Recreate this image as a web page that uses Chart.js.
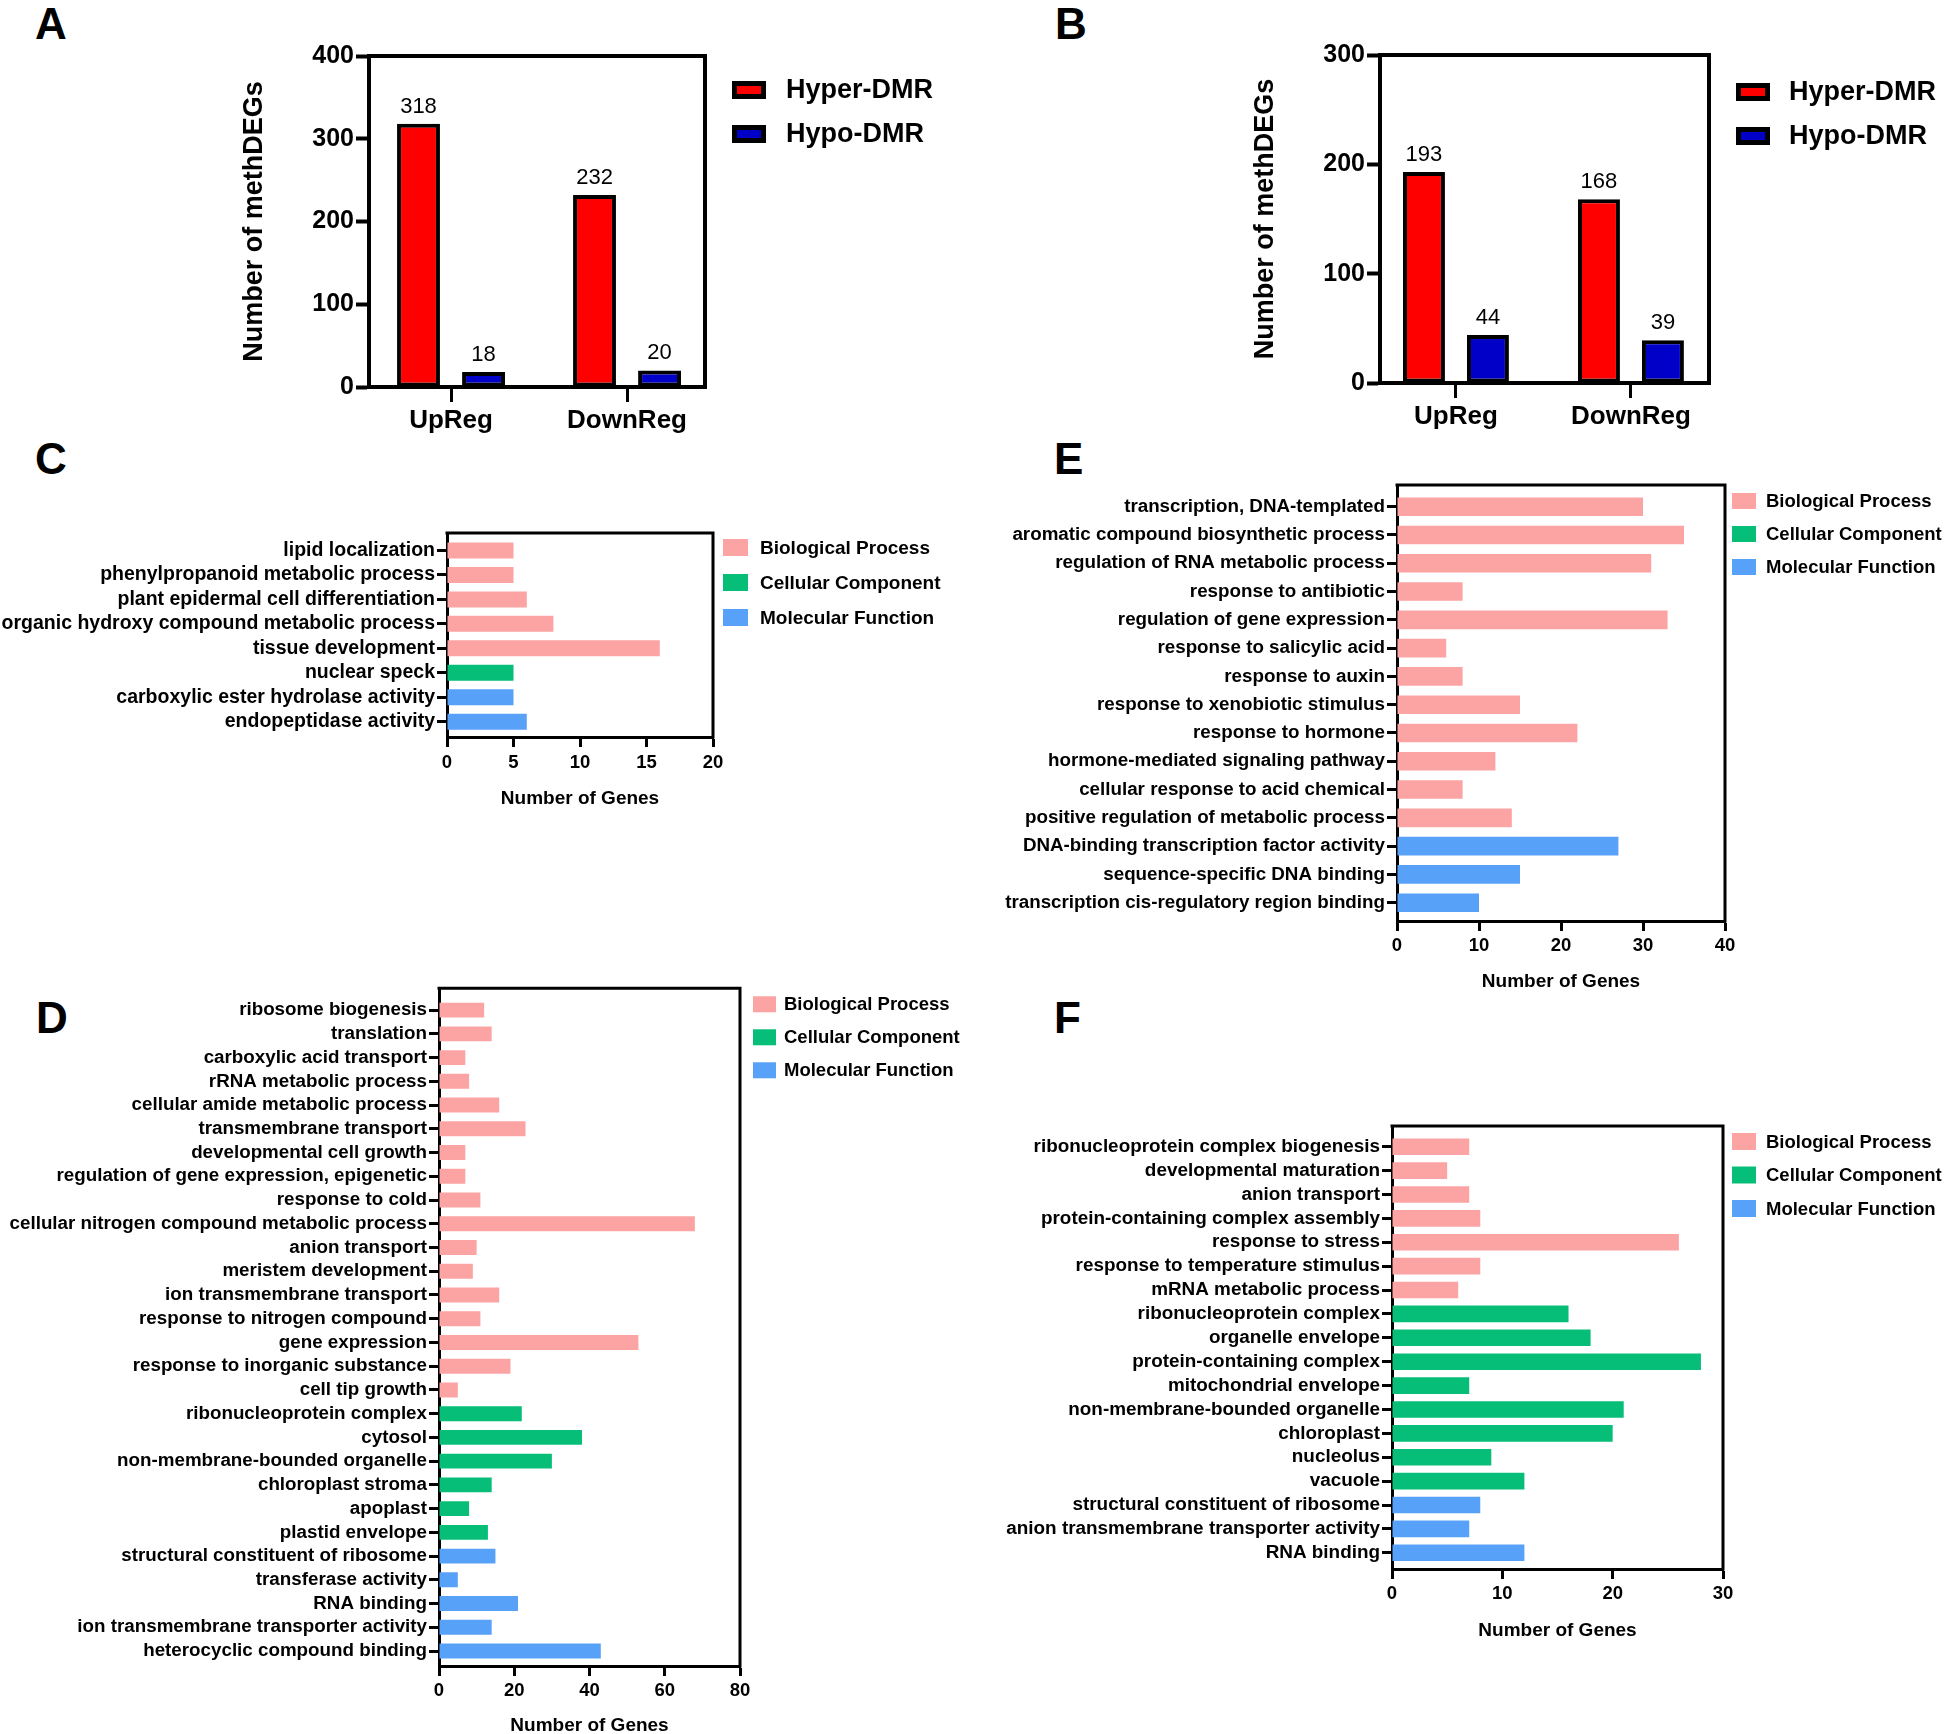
<!DOCTYPE html>
<html lang="en">
<head>
<meta charset="UTF-8">
<title>methDEGs and GO terms</title>
<script src="https://cdn.jsdelivr.net/npm/chart.js"></script>
<style>
  body {
    margin: 0;
    width: 1945px;
    height: 1734px;
    position: relative;
    overflow: hidden;
    background: #fff;
    font-family: "Liberation Sans", Arial, sans-serif;
  }
  .tag {
    position: absolute;
    font-weight: bold;
    font-size: 44px;
    line-height: 1;
  }
  canvas { position: absolute; }
</style>
</head>
<body>
<div class="tag" style="left:35px;top:2px">A</div>
<div class="tag" style="left:1055px;top:2px">B</div>
<div class="tag" style="left:35px;top:437px">C</div>
<div class="tag" style="left:1054px;top:437px">E</div>
<div class="tag" style="left:36px;top:996px">D</div>
<div class="tag" style="left:1054px;top:996px">F</div>

<script>
const FONT = '"Liberation Sans", Arial, sans-serif';
Chart.defaults.font.family = FONT;
Chart.defaults.color = '#000';

// --- A / B: methylated DEGs ---
const regGroups = ['UpReg', 'DownReg'];
const dmrTypes = ['Hyper-DMR', 'Hypo-DMR'];
const hyperA = [318, 232];
const hypoA = [18, 20];
const hyperB = [193, 168];
const hypoB = [44, 39];
const maxA = 400;
const maxB = 300;
const countStep = 100;

// --- GO terms ---
const goClasses = ['Biological Process', 'Cellular Component', 'Molecular Function'];
const classCodes = ['BP', 'CC', 'MF'];

const cTerms = ['lipid localization', 'phenylpropanoid metabolic process', 'plant epidermal cell differentiation',
  'organic hydroxy compound metabolic process', 'tissue development', 'nuclear speck',
  'carboxylic ester hydrolase activity', 'endopeptidase activity'];
const cGenes = [5, 5, 6, 8, 16, 5, 5, 6];
const cClass = ['BP', 'BP', 'BP', 'BP', 'BP', 'CC', 'MF', 'MF'];

const eTerms = ['transcription, DNA-templated', 'aromatic compound biosynthetic process',
  'regulation of RNA metabolic process', 'response to antibiotic', 'regulation of gene expression',
  'response to salicylic acid', 'response to auxin', 'response to xenobiotic stimulus', 'response to hormone',
  'hormone-mediated signaling pathway', 'cellular response to acid chemical',
  'positive regulation of metabolic process', 'DNA-binding transcription factor activity',
  'sequence-specific DNA binding', 'transcription cis-regulatory region binding'];
const eGenes = [30, 35, 31, 8, 33, 6, 8, 15, 22, 12, 8, 14, 27, 15, 10];
const eClass = ['BP', 'BP', 'BP', 'BP', 'BP', 'BP', 'BP', 'BP', 'BP', 'BP', 'BP', 'BP', 'MF', 'MF', 'MF'];

const dTerms = ['ribosome biogenesis', 'translation', 'carboxylic acid transport', 'rRNA metabolic process',
  'cellular amide metabolic process', 'transmembrane transport', 'developmental cell growth',
  'regulation of gene expression, epigenetic', 'response to cold', 'cellular nitrogen compound metabolic process',
  'anion transport', 'meristem development', 'ion transmembrane transport', 'response to nitrogen compound',
  'gene expression', 'response to inorganic substance', 'cell tip growth', 'ribonucleoprotein complex',
  'cytosol', 'non-membrane-bounded organelle', 'chloroplast stroma', 'apoplast', 'plastid envelope',
  'structural constituent of ribosome', 'transferase activity', 'RNA binding',
  'ion transmembrane transporter activity', 'heterocyclic compound binding'];
const dGenes = [12, 14, 7, 8, 16, 23, 7, 7, 11, 68, 10, 9, 16, 11, 53, 19, 5,
  22, 38, 30, 14, 8, 13, 15, 5, 21, 14, 43];
const dClass = ['BP', 'BP', 'BP', 'BP', 'BP', 'BP', 'BP', 'BP', 'BP', 'BP', 'BP', 'BP', 'BP', 'BP', 'BP', 'BP', 'BP',
  'CC', 'CC', 'CC', 'CC', 'CC', 'CC', 'MF', 'MF', 'MF', 'MF', 'MF'];

const fTerms = ['ribonucleoprotein complex biogenesis', 'developmental maturation', 'anion transport',
  'protein-containing complex assembly', 'response to stress', 'response to temperature stimulus',
  'mRNA metabolic process', 'ribonucleoprotein complex', 'organelle envelope', 'protein-containing complex',
  'mitochondrial envelope', 'non-membrane-bounded organelle', 'chloroplast', 'nucleolus', 'vacuole',
  'structural constituent of ribosome', 'anion transmembrane transporter activity', 'RNA binding'];
const fGenes = [7, 5, 7, 8, 26, 8, 6, 16, 18, 28, 7, 21, 20, 9, 12, 8, 7, 12];
const fClass = ['BP', 'BP', 'BP', 'BP', 'BP', 'BP', 'BP', 'CC', 'CC', 'CC', 'CC', 'CC', 'CC', 'CC', 'CC',
  'MF', 'MF', 'MF'];

// colours
const dmrColors = ['#FF0000', '#0000C8'];
const goColors = ['#FCA3A3', '#06BE78', '#58A1F8'];

// page layout (pixel boxes of each canvas and of its plot frame)
const layoutA = { rect: { l: 230, t: 20, r: 950, b: 470 }, area: { l: 369, r: 705, t: 56, b: 387 },
  lo: 0.466, hi: 0.443, catPct: 0.739, barPct: 0.66,
  legend: { dx: 27, dy: 25, w: 34, h: 18, gap: 44, tx: 54, size: 27, stroke: 5 } };
const layoutB = { rect: { l: 1241, t: 20, r: 1945, b: 470 }, area: { l: 1380, r: 1709, t: 55, b: 383 },
  lo: 0.434, hi: 0.446, catPct: 0.731, barPct: 0.656,
  legend: { dx: 27, dy: 28, w: 34, h: 18, gap: 44, tx: 53, size: 27, stroke: 5 } };
const layoutC = { rect: { l: 0, t: 500, r: 960, b: 830 }, area: { l: 447, r: 713, t: 533, b: 737 },
  lo: 0.715, hi: 0.626, bar: 16, xMax: 20, step: 5, labelSize: 19.5, tickPad: 5, titleOff: 61.5,
  legend: { dx: 10, dy: 6, w: 25, h: 17, gap: 35, tx: 37, size: 19 } };
const layoutE = { rect: { l: 990, t: 470, r: 1945, b: 1010 }, area: { l: 1397, r: 1725, t: 485, b: 921 },
  lo: 0.767, hi: 0.647, bar: 18.6, xMax: 40, step: 10, labelSize: 18.8, tickPad: 3.7, titleOff: 61,
  legend: { dx: 7, dy: 8, w: 24, h: 16, gap: 33, tx: 34, size: 18.5 } };
const layoutD = { rect: { l: 0, t: 975, r: 980, b: 1734 }, area: { l: 439, r: 740, t: 985, b: 1666 },
  lo: 0.92, hi: 0.63, bar: 15, xMax: 80, step: 20, labelSize: 18.8, tickPad: 4, titleOff: 60,
  legend: { dx: 13, dy: 8, w: 23, h: 16, gap: 33, tx: 31, size: 18.5 } };
const layoutF = { rect: { l: 990, t: 1080, r: 1945, b: 1660 }, area: { l: 1392, r: 1723, t: 1126, b: 1569 },
  lo: 0.866, hi: 0.678, bar: 16.6, xMax: 30, step: 10, labelSize: 18.9, tickPad: 3.7, titleOff: 61.3,
  legend: { dx: 9, dy: 7, w: 24, h: 17, gap: 33.5, tx: 34, size: 18.5 } };

// frame (top + right), legend and bar value labels
const decor = {
  id: 'decor',
  afterDatasetsDraw(chart, args, opts) {
    if (!opts.values) return;
    const ctx = chart.ctx;
    ctx.save();
    ctx.font = opts.values.size + 'px ' + FONT;
    ctx.fillStyle = '#000';
    ctx.textAlign = 'center';
    ctx.textBaseline = 'alphabetic';
    chart.data.datasets.forEach((ds, d) => {
      chart.getDatasetMeta(d).data.forEach((bar, i) => {
        ctx.fillText(String(ds.data[i].y), bar.x, bar.y - opts.values.gap);
      });
    });
    ctx.restore();
  },
  afterDraw(chart, args, opts) {
    const ctx = chart.ctx;
    const a = chart.chartArea;
    ctx.save();
    ctx.strokeStyle = '#000';
    ctx.lineWidth = opts.frame;
    ctx.lineCap = 'square';
    ctx.beginPath();
    ctx.moveTo(a.left, a.top);
    ctx.lineTo(a.right, a.top);
    ctx.lineTo(a.right, a.bottom);
    ctx.stroke();

    const lg = opts.legend;
    ctx.font = 'bold ' + lg.size + 'px ' + FONT;
    ctx.textAlign = 'left';
    ctx.textBaseline = 'middle';
    chart.data.datasets.forEach((ds, i) => {
      const x = a.right + lg.dx;
      const y = a.top + lg.dy + i * lg.gap;
      ctx.fillStyle = ds.backgroundColor;
      ctx.fillRect(x, y, lg.w, lg.h);
      if (lg.stroke) {
        ctx.lineWidth = lg.stroke;
        ctx.strokeStyle = '#000';
        ctx.strokeRect(x + lg.stroke / 2, y + lg.stroke / 2, lg.w - lg.stroke, lg.h - lg.stroke);
      }
      ctx.fillStyle = '#000';
      ctx.fillText(ds.label, x + lg.tx, y + lg.h / 2 + 1);
    });
    ctx.restore();
  }
};

function addCanvas(r) {
  const c = document.createElement('canvas');
  c.width = r.r - r.l;
  c.height = r.b - r.t;
  c.style.left = r.l + 'px';
  c.style.top = r.t + 'px';
  c.style.width = c.width + 'px';
  c.style.height = c.height + 'px';
  document.body.appendChild(c);
  return c;
}

function padFor(rect, area, yW, xH) {
  return {
    left: area.l - rect.l - yW,
    top: area.t - rect.t,
    right: rect.r - area.r,
    bottom: rect.b - area.b - xH
  };
}

function countChart(g, hyper, hypo, yMax) {
  const yW = g.area.l - g.rect.l;
  const xH = 60;
  const datasets = [hyper, hypo].map((vals, k) => ({
    label: dmrTypes[k],
    data: vals.map((v, i) => ({ x: i, y: v })),
    backgroundColor: dmrColors[k],
    borderColor: '#000',
    borderWidth: 4,
    borderSkipped: false,
    categoryPercentage: g.catPct,
    barPercentage: g.barPct
  }));
  return new Chart(addCanvas(g.rect), {
    type: 'bar',
    data: { datasets },
    options: {
      responsive: false,
      animation: false,
      devicePixelRatio: 1,
      layout: { autoPadding: false, padding: padFor(g.rect, g.area, yW, xH) },
      plugins: {
        legend: { display: false },
        tooltip: { enabled: false },
        decor: { frame: 4, legend: g.legend, values: { size: 22, gap: 11 } }
      },
      scales: {
        x: {
          type: 'linear',
          offset: false,
          min: -g.lo,
          max: regGroups.length - 1 + g.hi,
          afterBuildTicks: s => { s.ticks = regGroups.map((_, i) => ({ value: i })); },
          afterFit: s => { s.height = xH; },
          ticks: {
            autoSkip: false, maxRotation: 0, padding: 3,
            font: { size: 26, weight: 'bold' },
            callback: v => regGroups[v]
          },
          grid: { drawOnChartArea: false, offset: false, tickLength: 15, tickWidth: 3, tickColor: '#000' },
          border: { color: '#000', width: 4 }
        },
        y: {
          type: 'linear',
          min: 0,
          max: yMax,
          afterFit: s => { s.width = yW; },
          ticks: { stepSize: countStep, padding: 2, font: { size: 25, weight: 'bold' } },
          grid: { drawOnChartArea: false, tickLength: 13, tickWidth: 4, tickColor: '#000' },
          border: { color: '#000', width: 4 },
          title: {
            display: true,
            text: 'Number of methDEGs',
            font: { size: 27, weight: 'bold' },
            padding: { top: 8.8, bottom: 0 }
          }
        }
      }
    },
    plugins: [decor]
  });
}

function goChart(g, terms, genes, cls) {
  const n = terms.length;
  const yW = g.area.l - g.rect.l;
  const xH = g.titleOff + 0.4 * 19;
  const spacing = (g.area.b - g.area.t) / (n - 1 + g.lo + g.hi);
  const datasets = goClasses.map((name, k) => ({
    label: name,
    data: genes.map((v, i) => ({ x: v, y: i })).filter((p, i) => cls[i] === classCodes[k]),
    backgroundColor: goColors[k],
    borderWidth: 0,
    grouped: false,
    categoryPercentage: 1,
    barPercentage: g.bar / spacing
  }));
  return new Chart(addCanvas(g.rect), {
    type: 'bar',
    data: { datasets },
    options: {
      indexAxis: 'y',
      responsive: false,
      animation: false,
      devicePixelRatio: 1,
      layout: { autoPadding: false, padding: padFor(g.rect, g.area, yW, xH) },
      plugins: {
        legend: { display: false },
        tooltip: { enabled: false },
        decor: { frame: 3, legend: g.legend }
      },
      scales: {
        y: {
          type: 'linear',
          reverse: true,
          offset: false,
          min: -g.lo,
          max: n - 1 + g.hi,
          afterBuildTicks: s => { s.ticks = terms.map((_, i) => ({ value: i })); },
          afterFit: s => { s.width = yW; },
          ticks: {
            autoSkip: false, padding: 2,
            font: { size: g.labelSize, weight: 'bold' },
            callback: v => terms[v]
          },
          grid: { drawOnChartArea: false, offset: false, tickLength: 10, tickWidth: 3, tickColor: '#000' },
          border: { color: '#000', width: 3 }
        },
        x: {
          type: 'linear',
          offset: false,
          min: 0,
          max: g.xMax,
          afterFit: s => { s.height = xH; },
          ticks: { stepSize: g.step, padding: g.tickPad, maxRotation: 0, font: { size: 18.5, weight: 'bold' } },
          grid: { drawOnChartArea: false, tickLength: 10, tickWidth: 3, tickColor: '#000' },
          border: { color: '#000', width: 3 },
          title: {
            display: true,
            text: 'Number of Genes',
            padding: 0,
            font: { size: 19, weight: 'bold', lineHeight: 0.8 }
          }
        }
      }
    },
    plugins: [decor]
  });
}

countChart(layoutA, hyperA, hypoA, maxA);
countChart(layoutB, hyperB, hypoB, maxB);
goChart(layoutC, cTerms, cGenes, cClass);
goChart(layoutE, eTerms, eGenes, eClass);
goChart(layoutD, dTerms, dGenes, dClass);
goChart(layoutF, fTerms, fGenes, fClass);
</script>
</body>
</html>
